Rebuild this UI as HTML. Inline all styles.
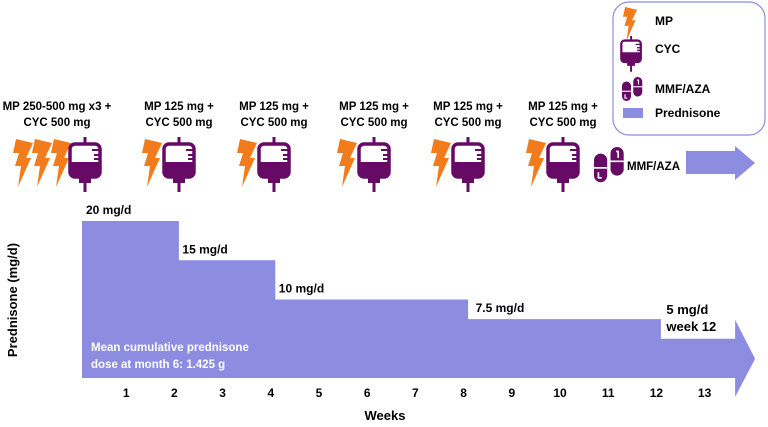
<!DOCTYPE html>
<html><head><meta charset="utf-8"><style>
body{margin:0;background:#fff}
svg{display:block;font-family:"Liberation Sans",Arial,sans-serif;font-weight:bold}
</style></head><body>
<svg width="768" height="427" viewBox="0 0 768 427">
<defs>
<g id="bolt"><polygon points="3,0 20,4 13,19 18,19 5,48 8,27 2,27 6,14 0,14" fill="#f27b1b"/></g>
<g id="bag">
<line x1="17" y1="0" x2="17" y2="7" stroke="#660a66" stroke-width="3"/>
<rect x="2" y="7" width="30" height="33" rx="5" fill="#fff" stroke="#660a66" stroke-width="3.5"/>
<path d="M2,25 H32 V35 Q32,40 27,40 H7 Q2,40 2,35 Z" fill="#660a66"/>
<line x1="24" y1="13" x2="32" y2="13" stroke="#660a66" stroke-width="2"/>
<line x1="26" y1="18" x2="32" y2="18" stroke="#660a66" stroke-width="2"/>
<line x1="26" y1="22" x2="32" y2="22" stroke="#660a66" stroke-width="2"/>
<rect x="11" y="39" width="12" height="7" fill="#660a66"/>
<line x1="17" y1="45" x2="17" y2="55" stroke="#660a66" stroke-width="3"/>
</g>
<g id="pills">
<rect x="0" y="6" width="12" height="26" rx="6" fill="#660a66"/>
<line x1="0" y1="19" x2="12" y2="19" stroke="#fff" stroke-width="1.5"/>
<path d="M4,23 V28 H7" stroke="#fff" stroke-width="1.5" fill="none"/>
<rect x="15" y="0" width="12" height="26" rx="6" fill="#660a66"/>
<line x1="15" y1="13" x2="27" y2="13" stroke="#fff" stroke-width="1.5"/>
<path d="M20,4 L22,4 V10" stroke="#fff" stroke-width="1.5" fill="none"/>
</g>
</defs>

<g>
<rect x="613" y="2" width="152" height="133" rx="16" fill="#fff" stroke="#8c8ce0" stroke-width="1.2"/>
<use href="#bolt" transform="translate(623,7) scale(0.7)"/>
<text x="655" y="25" font-size="12">MP</text>
<use href="#bag" transform="translate(620,36) scale(0.65)"/>
<text x="655" y="53" font-size="12">CYC</text>
<use href="#pills" transform="translate(622,77) scale(0.75)"/>
<text x="655" y="93" font-size="12">MMF/AZA</text>
<rect x="623" y="108" width="20" height="10" fill="#8c8ce0"/>
<text x="655" y="117" font-size="12">Prednisone</text>
</g>

<g id="doses"></g>

<g>
<use href="#pills" transform="translate(594,147) scale(1.1)"/>
<text x="627" y="170" font-size="11.5">MMF/AZA</text>
<polygon points="686,151 735,151 735,146 755,163 735,180 735,174 686,174" fill="#8c8ce0"/>
</g>

<g id="chart"></g>
<text transform="translate(17,300) rotate(-90)" text-anchor="middle" font-size="13">Prednisone (mg/d)</text>
<text x="385" y="420" text-anchor="middle" font-size="13">Weeks</text>
<text x="91" y="351" font-size="11.5" fill="#fff">Mean cumulative prednisone</text>
<text x="91" y="368" font-size="11.5" fill="#fff">dose at month 6: 1.425 g</text>
</svg>
<script>
const stepStarts=[0,2,4,8,12];
const stepEnds=[2,4,8,12,13.55];
const doses=[20,15,10,7.5,5];
const doseLabels=["20 mg/d","15 mg/d","10 mg/d","7.5 mg/d","5 mg/d"];
const weekTicks=[1,2,3,4,5,6,7,8,9,10,11,12,13];
const groupLabels1=["MP 250-500 mg x3 +","MP 125 mg +","MP 125 mg +","MP 125 mg +","MP 125 mg +","MP 125 mg +"];
const groupLabels2=["CYC 500 mg","CYC 500 mg","CYC 500 mg","CYC 500 mg","CYC 500 mg","CYC 500 mg"];
const groupCenters=[57,179,274,374,468,563];
const NS="http://www.w3.org/2000/svg";
const X=w=>82+48.2*w;
const Y=d=>378-7.85*d;
const chart=document.getElementById('chart');
function mk(t,a,p){const e=document.createElementNS(NS,t);for(const k in a)e.setAttribute(k,a[k]);p.appendChild(e);return e;}
for(let i=0;i<doses.length;i++){
  const r=mk('rect',{x:X(stepStarts[i]),y:Y(doses[i]),width:X(stepEnds[i])-X(stepStarts[i])+0.5,height:Y(0)-Y(doses[i]),fill:'#8c8ce0'},chart);
  
  
  if(i<4){
    const t=mk('text',{x:X(stepStarts[i])+(i==0?4:i==3?8:4),y:Y(doses[i])-7,'font-size':12},chart);
    t.textContent=doseLabels[i];
    
    
  }
}
const lastEnd=X(stepEnds[4]);
const head=mk('polygon',{points:`${lastEnd},${Y(doses[4])-19} ${lastEnd+20},${Y(doses[4])+20} ${lastEnd},${Y(0)+19}`,fill:'#8c8ce0'},chart);


const t5=mk('text',{x:X(12)+6,y:Y(doses[4])-25,'font-size':13},chart);t5.textContent=doseLabels[4];


const t6=mk('text',{x:X(12)+6,y:Y(doses[4])-8,'font-size':13},chart);t6.textContent="week 12";


weekTicks.forEach(w=>{const t=mk('text',{x:X(w)-4,y:397,'font-size':12,'text-anchor':'middle'},chart);t.textContent=w;

});
const dg=document.getElementById('doses');
groupCenters.forEach((c,i)=>{
  const a=mk('text',{x:c,y:110,'font-size':11.5,'text-anchor':'middle'},dg);a.textContent=groupLabels1[i];
  
  
  const b=mk('text',{x:c,y:126,'font-size':11.5,'text-anchor':'middle'},dg);b.textContent=groupLabels2[i];
  
  
  const nb=i==0?3:1;
  for(let k=0;k<nb;k++){const u=mk('use',{href:'#bolt',transform:i==0?`translate(${13+19*k},139)`:`translate(${c-37},139)`},dg);
    
    }
  const bg=mk('use',{href:'#bag',transform:i==0?'translate(68,137)':`translate(${c-17},137)`},dg);
  
  
});
</script>
</body></html>
